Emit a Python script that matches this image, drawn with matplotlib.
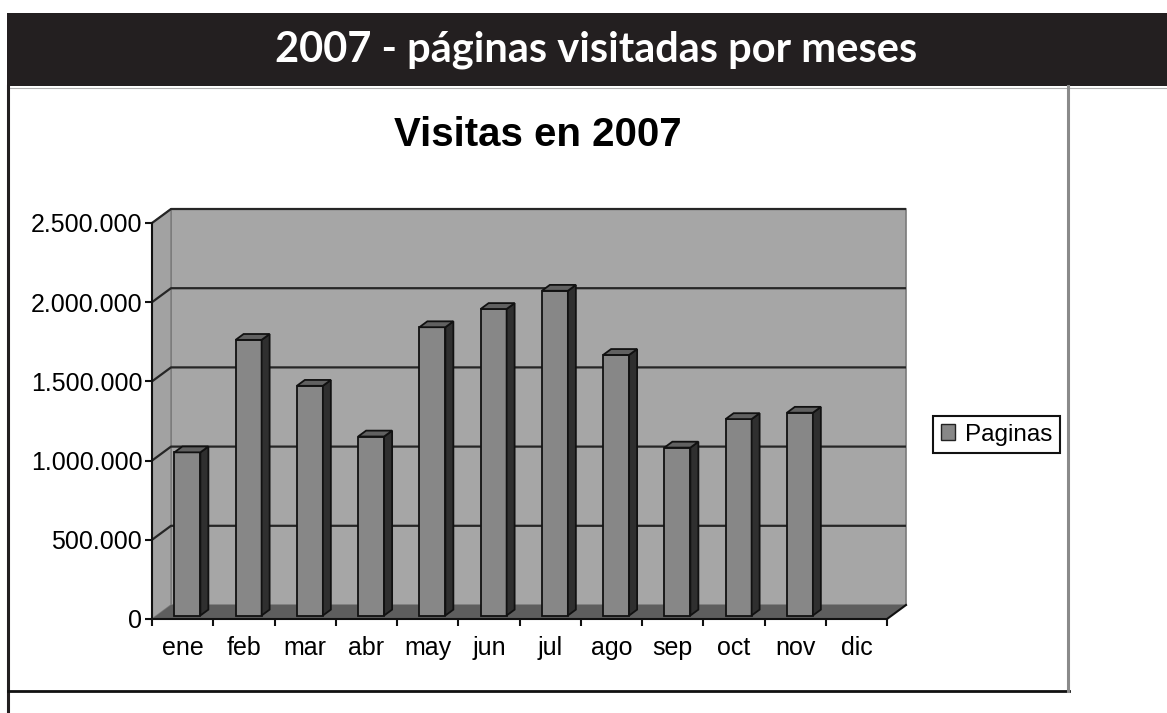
import matplotlib
matplotlib.use("Agg")
import matplotlib.pyplot as plt
from matplotlib.patches import Polygon, Rectangle, Patch
from matplotlib.lines import Line2D

# ---- data ----
months = ["ene", "feb", "mar", "abr", "may", "jun", "jul", "ago", "sep", "oct", "nov", "dic"]
paginas = [1030000, 1740000, 1450000, 1130000, 1820000, 1935000, 2050000, 1645000,
           1060000, 1240000, 1280000, None]
y_ticks = [0, 500000, 1000000, 1500000, 2000000, 2500000]
header_title = "2007 - páginas visitadas por meses"
chart_title = "Visitas en 2007"
legend_label = "Paginas"

# ---- style ----
W, H = 1167, 713
BACK = "#a6a6a6"
SIDE = "#a2a2a2"
FLOOR = "#5e5e5e"
BAR_FRONT = "#878787"
BAR_SIDE = "#2f2f2f"
BAR_TOP = "#616161"
GRID = "#262626"
FONT = "Liberation Sans"

fig = plt.figure(figsize=(W / 100, H / 100), dpi=100)
fig.patch.set_facecolor("white")

# header band
fig.add_artist(Rectangle((7 / W, 1 - 86 / H), 1 - 7 / W, 73 / H, transform=fig.transFigure,
                         facecolor="#231f20", edgecolor="none", zorder=0))
fig.text(596 / W, 1 - 50 / H, header_title, color="white", fontsize=30, fontweight="bold",
         family="Lato", ha="center", va="center")
fig.add_artist(Line2D([8 / W, 1], [1 - 87.5 / H] * 2, transform=fig.transFigure,
                      color="#b0b0b0", lw=0.8))
# frame
fig.add_artist(Line2D([8 / W, 8 / W], [0, 1 - 86 / H], transform=fig.transFigure,
                      color="#231f20", lw=2.2))
fig.add_artist(Line2D([8 / W, 1069 / W], [1 - 691 / H] * 2, transform=fig.transFigure,
                      color="#111111", lw=2.0))
fig.add_artist(Line2D([1068 / W] * 2, [1 - 691 / H, 1 - 86 / H], transform=fig.transFigure,
                      color="#8a8a8a", lw=2.2))

fig.text(538 / W, 1 - 135 / H, chart_title, fontsize=29, fontweight="bold", family=FONT,
         ha="center", va="center")

# ---- axes ----
ax_px = (152, 619, 735, 396)  # left, bottom(y from top), width, height in pixels
ax = fig.add_axes([ax_px[0] / W, 1 - ax_px[1] / H, ax_px[2] / W, ax_px[3] / H])
n = len(months)
x0, x1 = -0.5, n - 0.5
ymax = y_ticks[-1]
ax.set_xlim(x0, x1)
ax.set_ylim(0, ymax)
ax.patch.set_visible(False)

# depth offsets (pixels -> data units)
DX = 19 / ax_px[2] * (x1 - x0)
DY = 14 / ax_px[3] * ymax

# back wall
ax.add_patch(Rectangle((x0 + DX, DY), x1 - x0, ymax, facecolor=BACK, edgecolor="#7a7a7a",
                       lw=1.2, zorder=1, clip_on=False))
# side wall
ax.add_patch(Polygon([(x0, 0), (x0 + DX, DY), (x0 + DX, ymax + DY), (x0, ymax)],
                     closed=True, facecolor=SIDE, edgecolor="#7a7a7a", lw=1.0, zorder=1,
                     clip_on=False))
# gridlines
for v in y_ticks[1:]:
    ax.plot([x0, x0 + DX, x1 + DX], [v, v + DY, v + DY], color=GRID, lw=1.6, zorder=2,
            clip_on=False, solid_capstyle="butt")
# floor
ax.add_patch(Polygon([(x0, 0), (x1, 0), (x1 + DX, DY), (x0 + DX, DY)], closed=True,
                     facecolor=FLOOR, edgecolor="none", zorder=2, clip_on=False))
ax.plot([x1, x1 + DX], [0, DY], color="#111111", lw=1.5, zorder=4, clip_on=False)

# bars
w = 26 / ax_px[2] * (x1 - x0)
f0 = 0.25
bd = 0.42
xs = [i for i, v in enumerate(paginas) if v is not None]
vals = [v for v in paginas if v is not None]
bx = [x + f0 * DX for x in xs]
base = f0 * DY
ax.bar(bx, vals, width=w, bottom=base, color=BAR_FRONT, edgecolor="#111111", lw=1.3,
       zorder=4, clip_on=False)
for x, v in zip(bx, vals):
    xl, xr = x - w / 2, x + w / 2
    ax.add_patch(Polygon([(xr, base), (xr + bd * DX, base + bd * DY),
                          (xr + bd * DX, base + v + bd * DY), (xr, base + v)],
                         closed=True, facecolor=BAR_SIDE, edgecolor="#111111", lw=1.3,
                         zorder=4, clip_on=False))
    ax.add_patch(Polygon([(xl, base + v), (xr, base + v), (xr + bd * DX, base + v + bd * DY),
                          (xl + bd * DX, base + v + bd * DY)],
                         closed=True, facecolor=BAR_TOP, edgecolor="#111111", lw=1.3,
                         zorder=4, clip_on=False))

# axes spines / ticks
for s in ["top", "right"]:
    ax.spines[s].set_visible(False)
for s in ["left", "bottom"]:
    ax.spines[s].set_color("#111111")
    ax.spines[s].set_linewidth(1.5)
    ax.spines[s].set_zorder(5)

ax.set_yticks(y_ticks)
ax.set_yticklabels([f"{v:,}".replace(",", ".") for v in y_ticks], family=FONT, fontsize=18)
ax.tick_params(axis="y", length=5, width=1.5, color="#111111", pad=2)

ax.set_xticks(range(n))
ax.set_xticklabels(months, family=FONT, fontsize=18)
ax.set_xticks([x0 + i for i in range(n + 1)], minor=True)
ax.tick_params(axis="x", which="major", length=0, pad=12)
ax.tick_params(axis="x", which="minor", length=5, width=1.5, color="#111111")

# legend
leg = fig.legend(handles=[Patch(facecolor=BAR_FRONT, edgecolor="#222222", lw=1.0)],
                 labels=[legend_label], loc="center",
                 bbox_to_anchor=(996.5 / W, 1 - 434.5 / H), frameon=True, fancybox=False,
                 edgecolor="#111111", framealpha=1, prop={"family": FONT, "size": 17.5},
                 handlelength=0.6, handleheight=0.6, handletextpad=0.4, borderpad=0.3)
leg.get_frame().set_linewidth(1.5)

fig.savefig("out.png", dpi=100, facecolor="white")
